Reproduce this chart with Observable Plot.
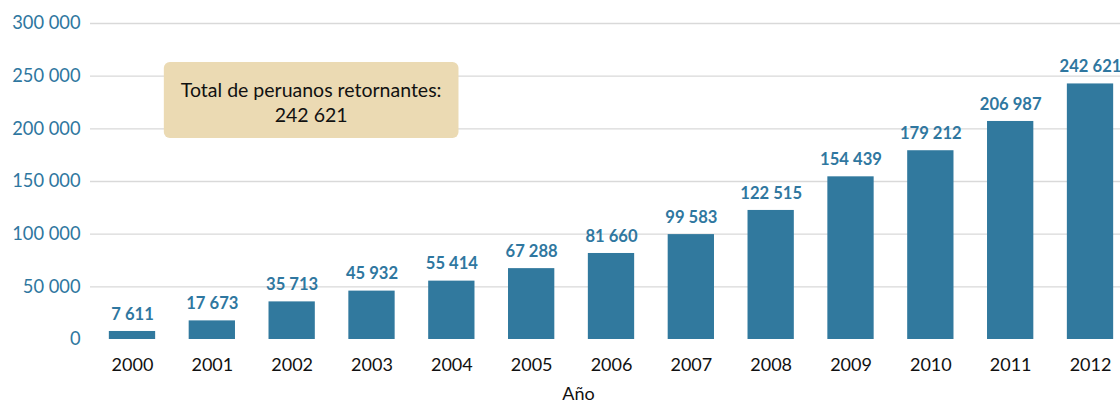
<!DOCTYPE html>
<html>
<head>
<meta charset="utf-8">
<script src="https://cdn.jsdelivr.net/npm/d3@7"></script>
<script src="https://cdn.jsdelivr.net/npm/@observablehq/plot@0.6"></script>
<style>
  html, body { margin: 0; padding: 0; background: #fff; overflow: hidden; }
  #chart svg { display: block; overflow: hidden; }
</style>
</head>
<body>
<div id="chart"></div>
<script>
const years = ["2000","2001","2002","2003","2004","2005","2006","2007","2008","2009","2010","2011","2012"];
const returnees = [7611, 17673, 35713, 45932, 55414, 67288, 81660, 99583, 122515, 154439, 179212, 206987, 242621];
const yTicks = [0, 50000, 100000, 150000, 200000, 250000, 300000];
const annotationLines = ["Total de peruanos retornantes:", "242 621"];
const annotationAnchor = {year: "2002", value: 226000};
const axisTitle = "Año";

const fmt = d3.formatLocale({decimal: ",", thousands: " ", grouping: [3], currency: ["", ""]}).format(",d");
const data = years.map((y, i) => ({year: y, value: returnees[i]}));

const blue = "#31799e";
const labelBlue = "#2f77a0";
const font = "Lato, 'Open Sans', sans-serif";

const chart = Plot.plot({
  width: 1120,
  height: 402,
  marginTop: 23,
  marginBottom: 63,
  marginLeft: 90,
  marginRight: 0,
  style: {fontFamily: font, background: "#fff"},
  x: {domain: years, range: [90, 1132], paddingInner: 0.42, paddingOuter: 0.236, round: false, axis: null},
  y: {domain: [0, 300000], axis: null},
  marks: [
    Plot.gridY(yTicks.filter(d => d > 0), {stroke: "#d9d9d9", strokeOpacity: 1, strokeWidth: 1.3}),
    Plot.axisY(yTicks, {tickSize: 0, tickPadding: 10, tickFormat: fmt, fontSize: 18.3, fill: labelBlue, label: null}),
    Plot.barY(data, {x: "year", y: "value", fill: blue}),
    Plot.text(data, {x: "year", y: "value", text: d => fmt(d.value), dy: -17, fontSize: 16.6, fontWeight: "bold", fill: labelBlue}),
    Plot.axisX({tickSize: 0, tickPadding: 19, fontSize: 18, fill: "#111", label: null}),
    Plot.text([axisTitle], {frameAnchor: "bottom", dx: -27, dy: 60, fontSize: 18, fill: "#111"}),
    Plot.text([annotationLines.join("\n")], {x: () => annotationAnchor.year, y: () => annotationAnchor.value, dx: 19, fontSize: 19.5, lineHeight: 1.28, fill: "#111"})
  ]
});
document.getElementById("chart").appendChild(chart);

// background box behind the annotation, sized from the text's bounding box
const annText = Array.from(chart.querySelectorAll("text")).find(t => t.textContent.startsWith("Total"));
if (annText) {
  const bb = annText.getBBox();
  const padX = 17, padTop = 16, padBottom = 12;
  const rect = document.createElementNS("http://www.w3.org/2000/svg", "rect");
  rect.setAttribute("x", bb.x - padX);
  rect.setAttribute("y", bb.y - padTop);
  rect.setAttribute("width", bb.width + 2 * padX);
  rect.setAttribute("height", bb.height + padTop + padBottom);
  rect.setAttribute("rx", 6);
  rect.setAttribute("fill", "#ebdab3");
  const tf = annText.getAttribute("transform");
  if (tf) rect.setAttribute("transform", tf);
  annText.parentNode.insertBefore(rect, annText);
}
</script>
</body>
</html>
